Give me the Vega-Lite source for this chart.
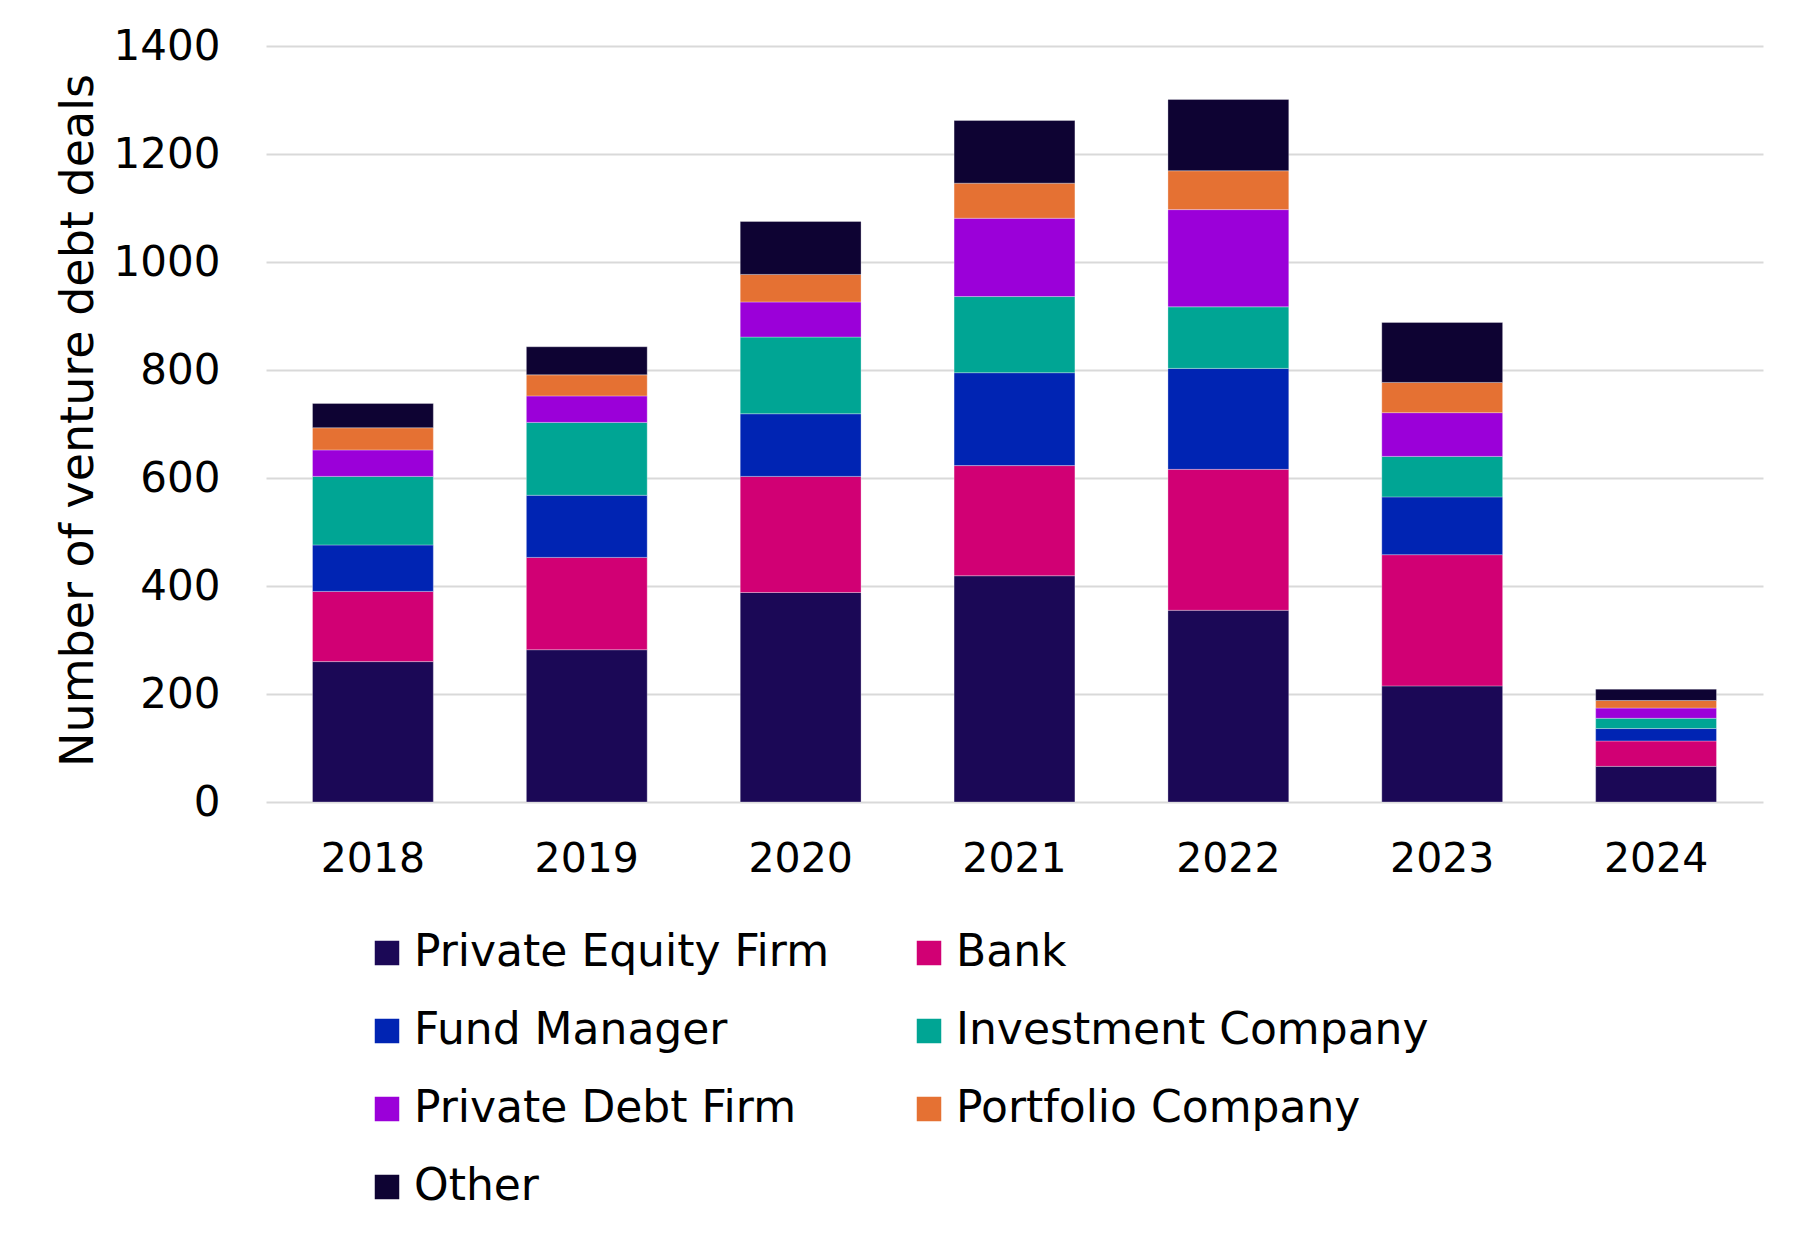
{
  "$schema": "https://vega.github.io/schema/vega-lite/v6.json",
  "width": 1497,
  "height": 756,
  "autosize": "none",
  "padding": {"left": 266, "top": 46, "right": 43, "bottom": 442},
  "background": "white",
  "config": {
    "font": "DejaVu Sans",
    "view": {"stroke": null}
  },
  "datasets": {
    "typeOrder": [
      {"type": "Private Equity Firm", "rank": 1},
      {"type": "Bank", "rank": 2},
      {"type": "Fund Manager", "rank": 3},
      {"type": "Investment Company", "rank": 4},
      {"type": "Private Debt Firm", "rank": 5},
      {"type": "Portfolio Company", "rank": 6},
      {"type": "Other", "rank": 7}
    ]
  },
  "data": {
    "values": [
      {"year": "2018", "type": "Private Equity Firm", "deals": 260},
      {"year": "2018", "type": "Bank", "deals": 130},
      {"year": "2018", "type": "Fund Manager", "deals": 86},
      {"year": "2018", "type": "Investment Company", "deals": 127},
      {"year": "2018", "type": "Private Debt Firm", "deals": 49},
      {"year": "2018", "type": "Portfolio Company", "deals": 41},
      {"year": "2018", "type": "Other", "deals": 45},
      {"year": "2019", "type": "Private Equity Firm", "deals": 282},
      {"year": "2019", "type": "Bank", "deals": 171},
      {"year": "2019", "type": "Fund Manager", "deals": 115},
      {"year": "2019", "type": "Investment Company", "deals": 135},
      {"year": "2019", "type": "Private Debt Firm", "deals": 49},
      {"year": "2019", "type": "Portfolio Company", "deals": 39},
      {"year": "2019", "type": "Other", "deals": 52},
      {"year": "2020", "type": "Private Equity Firm", "deals": 388},
      {"year": "2020", "type": "Bank", "deals": 215},
      {"year": "2020", "type": "Fund Manager", "deals": 116},
      {"year": "2020", "type": "Investment Company", "deals": 142},
      {"year": "2020", "type": "Private Debt Firm", "deals": 65},
      {"year": "2020", "type": "Portfolio Company", "deals": 51},
      {"year": "2020", "type": "Other", "deals": 98},
      {"year": "2021", "type": "Private Equity Firm", "deals": 419},
      {"year": "2021", "type": "Bank", "deals": 204},
      {"year": "2021", "type": "Fund Manager", "deals": 172},
      {"year": "2021", "type": "Investment Company", "deals": 141},
      {"year": "2021", "type": "Private Debt Firm", "deals": 145},
      {"year": "2021", "type": "Portfolio Company", "deals": 65},
      {"year": "2021", "type": "Other", "deals": 116},
      {"year": "2022", "type": "Private Equity Firm", "deals": 355},
      {"year": "2022", "type": "Bank", "deals": 261},
      {"year": "2022", "type": "Fund Manager", "deals": 187},
      {"year": "2022", "type": "Investment Company", "deals": 114},
      {"year": "2022", "type": "Private Debt Firm", "deals": 180},
      {"year": "2022", "type": "Portfolio Company", "deals": 72},
      {"year": "2022", "type": "Other", "deals": 132},
      {"year": "2023", "type": "Private Equity Firm", "deals": 215},
      {"year": "2023", "type": "Bank", "deals": 243},
      {"year": "2023", "type": "Fund Manager", "deals": 107},
      {"year": "2023", "type": "Investment Company", "deals": 75},
      {"year": "2023", "type": "Private Debt Firm", "deals": 81},
      {"year": "2023", "type": "Portfolio Company", "deals": 56},
      {"year": "2023", "type": "Other", "deals": 111},
      {"year": "2024", "type": "Private Equity Firm", "deals": 66},
      {"year": "2024", "type": "Bank", "deals": 47},
      {"year": "2024", "type": "Fund Manager", "deals": 23},
      {"year": "2024", "type": "Investment Company", "deals": 19},
      {"year": "2024", "type": "Private Debt Firm", "deals": 19},
      {"year": "2024", "type": "Portfolio Company", "deals": 14},
      {"year": "2024", "type": "Other", "deals": 21}
    ]
  },
  "transform": [
    {"lookup": "type", "from": {"data": {"name": "typeOrder"}, "key": "type", "fields": ["rank"]}}
  ],
  "mark": {"type": "bar", "stroke": "#ffffff", "strokeWidth": 0.6, "strokeOpacity": 0.5},
  "encoding": {
    "x": {
      "field": "year",
      "type": "nominal",
      "scale": {"paddingInner": 0.435, "paddingOuter": 0.2175},
      "axis": {
        "title": null,
        "labelAngle": 0,
        "labelFontSize": 41,
        "labelColor": "#000000",
        "labelPadding": 37,
        "ticks": false,
        "domain": false
      }
    },
    "y": {
      "field": "deals",
      "type": "quantitative",
      "stack": "zero",
      "scale": {"domain": [0, 1400]},
      "axis": {
        "title": "Number of venture debt deals",
        "titleFontSize": 46,
        "titleFontWeight": "normal",
        "titleColor": "#000000",
        "titleX": -188,
        "titleY": 374,
        "titleAngle": -90,
        "titleAlign": "center",
        "titleBaseline": "middle",
        "values": [0, 200, 400, 600, 800, 1000, 1200, 1400],
        "format": "d",
        "labelFontSize": 42,
        "labelColor": "#000000",
        "labelPadding": 46,
        "ticks": false,
        "domain": false,
        "gridColor": "#d9d9d9",
        "gridWidth": 2
      }
    },
    "order": {"field": "rank", "type": "quantitative", "sort": "ascending"},
    "color": {
      "field": "type",
      "type": "nominal",
      "scale": {
        "domain": ["Private Equity Firm", "Fund Manager", "Private Debt Firm", "Other", "Bank", "Investment Company", "Portfolio Company"],
        "range": ["#1B0856", "#0024B3", "#9B00D9", "#0E0333", "#D10074", "#00A594", "#E57133"]
      },
      "legend": {
        "title": null,
        "orient": "none",
        "legendX": 99,
        "legendY": 885,
        "columns": 2,
        "columnPadding": 77,
        "rowPadding": 34,
        "symbolType": "square",
        "symbolSize": 600,
        "symbolStrokeWidth": 0,
        "labelFontSize": 44,
        "labelColor": "#000000",
        "labelOffset": 5,
        "labelLimit": 800
      }
    }
  }
}
